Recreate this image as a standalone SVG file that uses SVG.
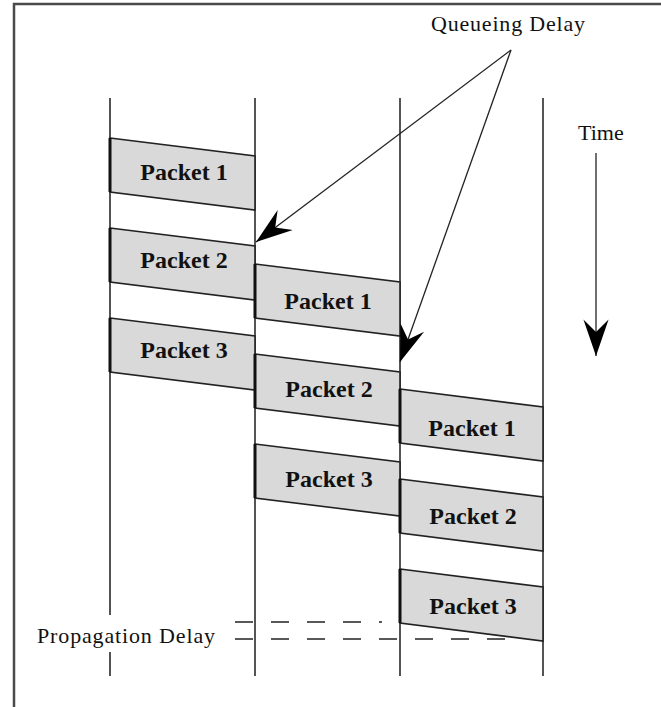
<svg xmlns="http://www.w3.org/2000/svg" width="661" height="707" viewBox="0 0 661 707">
<style>
.frame{fill:none;stroke:#4a4a4a;stroke-width:2.5}
.col{stroke:#2a2a2a;stroke-width:1.6;fill:none}
.pkt{fill:#d9d9d9;stroke:#222;stroke-width:1.6;stroke-linejoin:miter}
.edge{stroke:#111;stroke-width:3}
.pl{font-family:"Liberation Serif",serif;font-weight:bold;font-size:24px;fill:#111;text-anchor:middle}
.lbl{font-family:"Liberation Serif",serif;font-size:22px;fill:#111}
.conn{stroke:#222;stroke-width:1.3;fill:none}
.dash{stroke:#222;stroke-width:1.6;stroke-dasharray:18 18;fill:none}
</style>
<defs>
<marker id="ah" markerUnits="userSpaceOnUse" markerWidth="40" markerHeight="30" viewBox="-33 -13 35 26" refX="0" refY="0" orient="auto">
<path d="M0,0 L-32,-11 L-21,0 L-32,11 Z" fill="#000"/>
</marker>
</defs>
<rect width="661" height="707" fill="#fff"/>
<path class="frame" d="M14,707 L14,4 L661,4"/>
<g id="timelines">
<path class="col" d="M110,98 L110,615 M110,652 L110,676"/>
<path class="col" d="M255,98 L255,676"/>
<path class="col" d="M400,98 L400,676"/>
<path class="col" d="M543,98 L543,676"/>
</g>
<g id="h1-packet1"><polygon class="pkt" points="110,138 255,156 255,210 110,192"/><line class="edge" x1="110" y1="138" x2="110" y2="192"/><text class="pl" x="184" y="180">Packet 1</text></g>
<g id="h1-packet2"><polygon class="pkt" points="110,228 255,246 255,300 110,282"/><line class="edge" x1="110" y1="228" x2="110" y2="282"/><text class="pl" x="184" y="268">Packet 2</text></g>
<g id="h1-packet3"><polygon class="pkt" points="110,318 255,336 255,390 110,372"/><line class="edge" x1="110" y1="318" x2="110" y2="372"/><text class="pl" x="184" y="358">Packet 3</text></g>
<g id="h2-packet1"><polygon class="pkt" points="255,264 400,282 400,336 255,318"/><line class="edge" x1="255" y1="264" x2="255" y2="318"/><text class="pl" x="328" y="309">Packet 1</text></g>
<g id="h2-packet2"><polygon class="pkt" points="255,354 400,372 400,426 255,408"/><line class="edge" x1="255" y1="354" x2="255" y2="408"/><text class="pl" x="329" y="397">Packet 2</text></g>
<g id="h2-packet3"><polygon class="pkt" points="255,444 400,462 400,516 255,498"/><line class="edge" x1="255" y1="444" x2="255" y2="498"/><text class="pl" x="329" y="487">Packet 3</text></g>
<g id="h3-packet1"><polygon class="pkt" points="400,389 543,407 543,461 400,443"/><line class="edge" x1="400" y1="389" x2="400" y2="443"/><text class="pl" x="472" y="436">Packet 1</text></g>
<g id="h3-packet2"><polygon class="pkt" points="400,479 543,497 543,551 400,533"/><line class="edge" x1="400" y1="479" x2="400" y2="533"/><text class="pl" x="473" y="524">Packet 2</text></g>
<g id="h3-packet3"><polygon class="pkt" points="400,569 543,587 543,641 400,623"/><line class="edge" x1="400" y1="569" x2="400" y2="623"/><text class="pl" x="473" y="614">Packet 3</text></g>
<g id="queueing-delay"><text class="lbl" x="431" y="31" textLength="154" lengthAdjust="spacing">Queueing Delay</text></g>
<g id="time"><text class="lbl" x="578" y="140">Time</text></g>
<g id="propagation-delay"><text class="lbl" x="37" y="643" textLength="178" lengthAdjust="spacing">Propagation Delay</text></g>
<g id="connectors">
<path class="conn" d="M511,50 L256,242" marker-end="url(#ah)"/>
<path class="conn" d="M511,50 L400,362" marker-end="url(#ah)"/>
<path class="conn" d="M596,153 L596,356" marker-end="url(#ah)"/>
<path class="dash" d="M235,622 L382,622"/>
<path class="dash" d="M235,639 L505,639"/>
</g>
</svg>
